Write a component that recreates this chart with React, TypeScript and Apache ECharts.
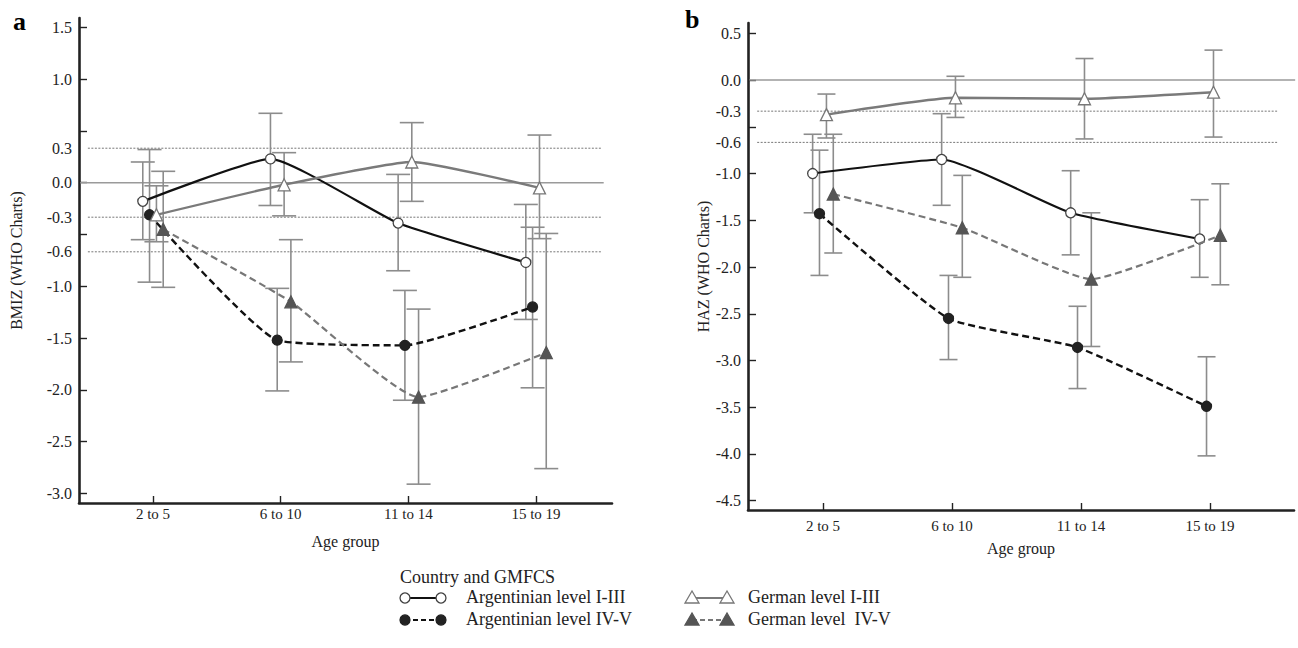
import React, { useEffect, useRef } from 'react';
import * as echarts from 'echarts';

// ---------- data ----------
const categories = ['2 to 5', '6 to 10', '11 to 14', '15 to 19'];
const groupNames = ['Argentinian level I-III', 'Argentinian level IV-V', 'German level I-III', 'German level IV-V'];
const groupOffsets = [-0.08, -0.027, 0.027, 0.08];

// Panel a: BMIZ
const bmizArgI = [-0.18, 0.23, -0.39, -0.77];
const bmizArgIV = [-0.31, -1.52, -1.57, -1.2];
const bmizGerI = [-0.31, -0.02, 0.2, -0.05];
const bmizGerIV = [-0.45, -1.15, -2.07, -1.64];
const bmizLowArgI = [-0.55, -0.22, -0.85, -1.32];
const bmizLowArgIV = [-0.96, -2.01, -2.1, -1.98];
const bmizLowGerI = [-0.57, -0.32, -0.18, -0.54];
const bmizLowGerIV = [-1.01, -1.73, -2.91, -2.76];
const bmizHighArgI = [0.2, 0.67, 0.08, -0.21];
const bmizHighArgIV = [0.32, -1.02, -1.04, -0.43];
const bmizHighGerI = [-0.03, 0.29, 0.58, 0.46];
const bmizHighGerIV = [0.11, -0.55, -1.22, -0.49];

// Panel b: HAZ
const hazArgI = [-1.0, -0.85, -1.42, -1.7];
const hazArgIV = [-1.43, -2.55, -2.86, -3.49];
const hazGerI = [-0.37, -0.19, -0.2, -0.13];
const hazGerIV = [-1.22, -1.58, -2.13, -1.66];
const hazLowArgI = [-1.42, -1.34, -1.87, -2.11];
const hazLowArgIV = [-2.09, -2.99, -3.3, -4.02];
const hazLowGerI = [-0.62, -0.4, -0.63, -0.61];
const hazLowGerIV = [-1.85, -2.11, -2.85, -2.19];
const hazHighArgI = [-0.58, -0.36, -0.97, -1.28];
const hazHighArgIV = [-0.75, -2.09, -2.42, -2.96];
const hazHighGerI = [-0.15, 0.04, 0.23, 0.32];
const hazHighGerIV = [-0.58, -1.02, -1.42, -1.11];

// tick labels
const bmizTickValues = [1.5, 1.0, 0.5, 0, -0.5, -1.0, -1.5, -2.0, -2.5, -3.0];
const bmizLabelValues = [1.5, 1.0, 0.333, 0, -0.333, -0.667, -1.0, -1.5, -2.0, -2.5, -3.0];
const bmizLabelTexts = ['1.5', '1.0', '0.3', '0.0', '-0.3', '-0.6', '-1.0', '-1.5', '-2.0', '-2.5', '-3.0'];
const hazTickValues = [0.5, 0, -0.5, -1.0, -1.5, -2.0, -2.5, -3.0, -3.5, -4.0, -4.5];
const hazLabelValues = [0.5, 0, -0.333, -0.667, -1.0, -1.5, -2.0, -2.5, -3.0, -3.5, -4.0, -4.5];
const hazLabelTexts = ['0.5', '0.0', '-0.3', '-0.6', '-1.0', '-1.5', '-2.0', '-2.5', '-3.0', '-3.5', '-4.0', '-4.5'];

// reference lines: [y, xStart, xEnd, kind(0 solid,1 dotted)]
const bmizRefLines = [
  [0, 0.43, 4.53, 0],
  [0.333, 0.49, 4.51, 1],
  [-0.333, 0.49, 4.51, 1],
  [-0.667, 0.49, 4.51, 1],
];
const hazRefLines = [
  [0, 0.43, 4.66, 0],
  [-0.333, 0.49, 4.52, 1],
  [-0.667, 0.49, 4.52, 1],
];

const FONT = '"Liberation Serif", "Times New Roman", serif';

const groupStyles = [
  { color: '#111', dash: 'solid', symbol: 'circle', fill: '#fff', border: '#444', width: 2.2, size: 10 },
  { color: '#111', dash: [7, 4], symbol: 'circle', fill: '#222', border: '#222', width: 2.4, size: 10 },
  { color: '#7a7a7a', dash: 'solid', symbol: 'triangle', fill: '#fff', border: '#777', width: 2.4, size: 12 },
  { color: '#777', dash: [7, 4], symbol: 'triangle', fill: '#555', border: '#555', width: 2.2, size: 12 },
];

function buildPanel(
  idx: number,
  means: number[][],
  lows: number[][],
  highs: number[][],
  refLines: number[][],
  capHalf: number
) {
  const series: any[] = [];
  series.push({
    type: 'custom',
    xAxisIndex: idx,
    yAxisIndex: idx,
    z: 1,
    silent: true,
    data: refLines,
    renderItem: (params: any, api: any) => {
      const y = api.value(0);
      const p1 = api.coord([api.value(1), y]);
      const p2 = api.coord([api.value(2), y]);
      const dotted = api.value(3) === 1;
      return {
        type: 'line',
        shape: { x1: p1[0], y1: p1[1], x2: p2[0], y2: p2[1] },
        style: dotted
          ? { stroke: '#777', lineWidth: 1, lineDash: [2, 1.5] }
          : { stroke: '#9a9a9a', lineWidth: 1.6 },
      };
    },
  });
  const errData: number[][] = [];
  means.forEach((_, g) => {
    categories.forEach((__, i) => {
      errData.push([i + 1 + groupOffsets[g], lows[g][i], highs[g][i]]);
    });
  });
  series.push({
    type: 'custom',
    xAxisIndex: idx,
    yAxisIndex: idx,
    z: 2,
    silent: true,
    data: errData,
    renderItem: (params: any, api: any) => {
      const x = api.value(0);
      const lo = api.coord([x, api.value(1)]);
      const hi = api.coord([x, api.value(2)]);
      const st = { stroke: '#8c8c8c', lineWidth: 1.6 };
      return {
        type: 'group',
        children: [
          { type: 'line', shape: { x1: hi[0], y1: hi[1], x2: lo[0], y2: lo[1] }, style: st },
          { type: 'line', shape: { x1: hi[0] - capHalf, y1: hi[1], x2: hi[0] + capHalf, y2: hi[1] }, style: st },
          { type: 'line', shape: { x1: lo[0] - capHalf, y1: lo[1], x2: lo[0] + capHalf, y2: lo[1] }, style: st },
        ],
      };
    },
  });
  means.forEach((vals, g) => {
    const s = groupStyles[g];
    series.push({
      type: 'line',
      name: groupNames[g],
      xAxisIndex: idx,
      yAxisIndex: idx,
      z: 3 + g,
      data: vals.map((v, i) => [i + 1 + groupOffsets[g], v]),
      symbol: s.symbol,
      symbolSize: s.size,
      showSymbol: true,
      smooth: 0.15,
      lineStyle: { color: s.color, width: s.width, type: s.dash },
      itemStyle: { color: s.fill, borderColor: s.border, borderWidth: 1.3 },
    });
  });
  return series;
}

function labelFormatter(values: number[], texts: string[]) {
  return (v: number) => {
    for (let j = 0; j < values.length; j++) {
      if (Math.abs(values[j] - v) < 1e-3) return texts[j];
    }
    return '';
  };
}

function xAxis(idx: number, min: number, max: number, labelMargin: number, nameGap: number) {
  return {
    type: 'value',
    gridIndex: idx,
    min,
    max,
    name: 'Age group',
    nameLocation: 'middle',
    nameGap,
    nameTextStyle: { fontFamily: FONT, fontSize: 16, color: '#222' },
    axisLine: { show: true, onZero: false, lineStyle: { color: '#222', width: 2.6 } },
    axisTick: { show: true, inside: true, length: 7, customValues: [1, 2, 3, 4], lineStyle: { color: '#222', width: 1.4 } },
    axisLabel: {
      customValues: [1, 2, 3, 4],
      margin: labelMargin,
      fontFamily: FONT,
      fontSize: 15,
      color: '#222',
      formatter: (v: number) => categories[Math.round(v) - 1] || '',
    },
    splitLine: { show: false },
  };
}

function yAxis(
  idx: number,
  min: number,
  max: number,
  name: string,
  nameGap: number,
  ticks: number[],
  labelValues: number[],
  labelTexts: string[]
) {
  return {
    type: 'value',
    gridIndex: idx,
    min,
    max,
    name,
    nameLocation: 'middle',
    nameGap,
    nameTextStyle: { fontFamily: FONT, fontSize: 16, color: '#222' },
    axisLine: { show: true, onZero: false, lineStyle: { color: '#222', width: 2.6 } },
    axisTick: { show: true, inside: true, length: 8, customValues: ticks, lineStyle: { color: '#222', width: 1.4 } },
    axisLabel: {
      customValues: labelValues,
      margin: 7,
      fontFamily: FONT,
      fontSize: 16,
      color: '#222',
      formatter: labelFormatter(labelValues, labelTexts),
    },
    splitLine: { show: false },
  };
}

function legendGraphics() {
  const els: any[] = [];
  const textStyle = { fontFamily: FONT, fontSize: 18, fill: '#222' };
  els.push({ type: 'text', left: 400, top: 568, style: { text: 'Country and GMFCS', ...textStyle } });
  const rows = [598, 620];
  const cols = [
    { x1: 405, x2: 441, tx: 466 },
    { x1: 692, x2: 727, tx: 748 },
  ];
  groupNames.forEach((nm, g) => {
    const s = groupStyles[g];
    const row = rows[g % 2];
    const col = cols[Math.floor(g / 2)];
    els.push({
      type: 'line',
      shape: { x1: col.x1, y1: row, x2: col.x2, y2: row },
      style: { stroke: s.color, lineWidth: 2.2, lineDash: s.dash === 'solid' ? null : [5, 3] },
    });
    [col.x1, col.x2].forEach((cx) => {
      if (s.symbol === 'circle') {
        els.push({ type: 'circle', shape: { cx, cy: row, r: 5 }, style: { fill: s.fill, stroke: s.border, lineWidth: 1.3 } });
      } else {
        els.push({
          type: 'polygon',
          shape: { points: [[cx, row - 7], [cx - 7, row + 5], [cx + 7, row + 5]] },
          style: { fill: s.fill, stroke: s.border, lineWidth: 1.3 },
        });
      }
    });
    els.push({ type: 'text', left: col.tx, top: row - 10, style: { text: nm.replace('German level IV-V', 'German level  IV-V'), ...textStyle } });
  });
  els.push({ type: 'text', left: 13, top: 8, style: { text: 'a', fontFamily: FONT, fontSize: 26, fontWeight: 'bold', fill: '#000' } });
  els.push({ type: 'text', left: 685, top: 6, style: { text: 'b', fontFamily: FONT, fontSize: 26, fontWeight: 'bold', fill: '#000' } });
  return els;
}

export default function App() {
  const ref = useRef<HTMLDivElement>(null);
  useEffect(() => {
    document.body.style.margin = '0';
    const chart = echarts.init(ref.current as HTMLDivElement, null, { renderer: 'svg' });
    const seriesA = buildPanel(
      0,
      [bmizArgI, bmizArgIV, bmizGerI, bmizGerIV],
      [bmizLowArgI, bmizLowArgIV, bmizLowGerI, bmizLowGerIV],
      [bmizHighArgI, bmizHighArgIV, bmizHighGerI, bmizHighGerIV],
      bmizRefLines,
      12
    );
    const seriesB = buildPanel(
      1,
      [hazArgI, hazArgIV, hazGerI, hazGerIV],
      [hazLowArgI, hazLowArgIV, hazLowGerI, hazLowGerIV],
      [hazHighArgI, hazHighArgIV, hazHighGerI, hazHighGerIV],
      hazRefLines,
      9
    );
    chart.setOption({
      animation: false,
      backgroundColor: '#fff',
      grid: [
        { left: 79, top: 18, width: 533, height: 485 },
        { left: 748, top: 23, width: 546, height: 487 },
      ],
      xAxis: [xAxis(0, 0.4205, 4.595, 3, 30), xAxis(1, 0.419, 4.651, 8, 30)],
      yAxis: [
        yAxis(0, -3.092, 1.59, 'BMIZ (WHO Charts)', 55, bmizTickValues, bmizLabelValues, bmizLabelTexts),
        yAxis(1, -4.599, 0.61, 'HAZ (WHO Charts)', 34, hazTickValues, hazLabelValues, hazLabelTexts),
      ],
      series: [...seriesA, ...seriesB],
      graphic: legendGraphics(),
    });
    return () => chart.dispose();
  }, []);
  return <div ref={ref} style={{ width: 1298, height: 648 }} />;
}
